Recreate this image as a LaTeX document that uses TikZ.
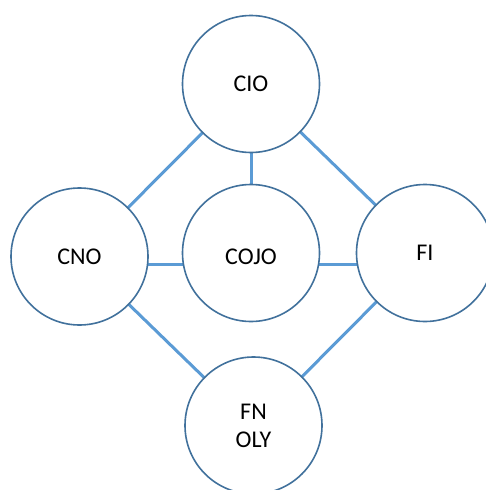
\documentclass[tikz,border=0pt]{standalone}
\usepackage{fontspec}
\setmainfont{Carlito}
\definecolor{ringblue}{HTML}{41719C}
\definecolor{linkblue}{HTML}{5B9BD5}
\begin{document}
\begin{tikzpicture}[x=1pt,y=-1pt,
  ring/.style={circle,draw=ringblue,line width=1.6pt,fill=white,minimum size=137pt,inner sep=0pt,
    font=\fontsize{24}{28}\selectfont,align=center},
  link/.style={draw=linkblue,line width=3pt}]
\useasboundingbox (0,0) rectangle (486,490);
\coordinate (pcio) at (251,84);
\coordinate (pcno) at (79.5,256.5);
\coordinate (pcojo) at (251,253);
\coordinate (pfi) at (425,253);
\coordinate (pfn) at (253.5,425.5);
% connectors
\draw[link] (pcio) -- (pcojo);
\draw[link] (pcio) -- (pcno);
\draw[link] (pcio) -- (pfi);
\draw[link] (pcno) -- (pfn);
\draw[link] (pfi) -- (pfn);
\draw[link] ([yshift=-7.5pt]pcno) -- ([yshift=-11pt]pcojo);
\draw[link] ([yshift=-11pt]pcojo) -- ([yshift=-11pt]pfi);
% nodes
\node[ring] (cio) at (pcio) {CIO};
\node[ring] (cno) at (pcno) {CNO};
\node[ring,label={[font=\fontsize{24}{28}\selectfont,yshift=-3.5pt]center:COJO}] (cojo) at (pcojo) {};
\node[ring] (fi) at (pfi) {FI};
\node[ring] (fn) at (pfn) {FN\\OLY};
\end{tikzpicture}
\end{document}
